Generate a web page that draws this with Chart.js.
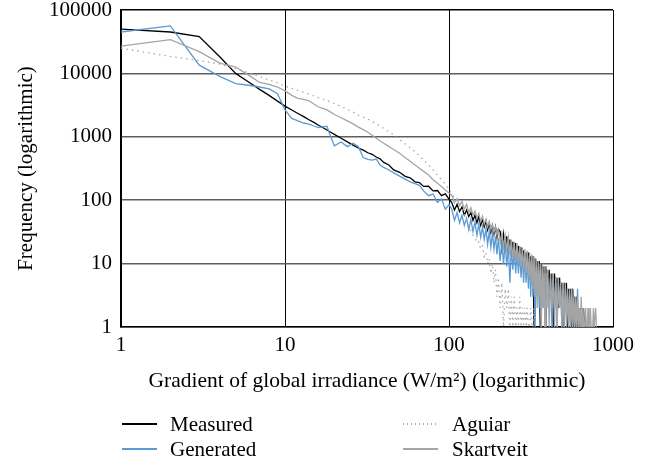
<!DOCTYPE html>
<html>
<head>
<meta charset="utf-8">
<script src="https://cdn.jsdelivr.net/npm/chart.js@4/dist/chart.umd.min.js"></script>
<style>
  html, body { margin: 0; padding: 0; background: #fff; }
  #wrap { position: relative; width: 656px; height: 465px; }
  #legend { position: absolute; left: 0; top: 0; width: 656px; height: 465px; pointer-events: none;
            font-family: "Liberation Serif", "Times New Roman", serif; font-size: 21px; color: #000; }
  .swatch { position: absolute; height: 1.4px; }
  .label { position: absolute; line-height: 24px; white-space: nowrap; }
</style>
</head>
<body>
<div id="wrap">
  <canvas id="chart" width="656" height="465"></canvas>
  <div id="legend"></div>
</div>
<script>
// Gradient bins (W/m2)
const gradients = [
  1, 2, 3, 4, 5, 6, 7, 8, 9, 10,
  11, 12, 13, 14, 15, 16, 17, 18, 19, 20,
  22, 24, 26, 28, 30, 32, 34, 36, 38, 40,
  43, 46, 50, 54, 58, 62, 66, 70, 75, 80,
  85, 90, 95, 100,
  104, 108, 112, 116, 120, 124, 128, 132, 136, 140,
  144, 148, 152, 156, 160, 164, 168, 172, 176, 180,
  184, 188, 192, 196, 200,
  205, 210, 215, 220, 225, 230, 235, 240, 245, 250,
  255, 260, 265, 270, 275, 280, 285, 290, 295, 300,
  305, 310, 315, 320, 325, 330, 335, 340, 345, 350,
  355, 360, 365, 370, 375, 380, 385, 390, 395, 400,
  408, 416, 424, 432, 440, 448, 456, 464, 472, 480,
  488, 496, 504, 512, 520, 528, 536, 544, 552, 560,
  568, 576, 584, 592, 600, 608, 616, 624, 632, 640,
  648, 656, 664, 672, 680, 688, 696, 704, 712, 720,
  728, 736, 744, 752, 760, 768, 776, 784, 792, 800
];

// Frequency of each gradient bin
const measured = [
  50000, 45000, 38000, 18300, 10000, 7300, 5600, 4500, 3650, 3050,
  2650, 2330, 2080, 1860, 1690, 1520, 1400, 1280, 1180, 1090,
  950, 830, 740, 665, 615, 560, 530, 480, 450, 395,
  360, 300, 275, 238, 226, 195, 190, 165, 166, 140,
  142, 118, 126, 104,
  92, 70, 86, 66, 78, 58, 70, 55, 64, 48,
  58, 44, 55, 40, 50, 38, 47, 34, 44, 31,
  40, 29, 38, 26, 35,
  32, 17, 29, 15, 27, 14, 24, 13, 22, 12,
  21, 11, 19, 10, 18, 9, 16, 9, 15, 8,
  15, 7, 13, 7, 13, 1, 12, 6, 11, 5,
  11, 1, 10, 5, 9, 4, 9, 1, 8, 4,
  8, 3, 7, 1, 7, 3, 6, 2, 6, 3,
  5, 1, 5, 2, 5, 1, 4, 2, 4, 1,
  4, 1, 3, 1, 3, 1, 2, 1, 2, 1,
  1, 2, 1, 1, 2, null, null, null, null, null,
  null, null, null, null, null, null, null, null, null, null
];

const generated = [
  45000, 56000, 13500, 9000, 6900, 6500, 6100, 5700, 4800, 2650,
  1950, 1780, 1650, 1590, 1480, 1400, 1430, 1470, 1000, 720,
  830, 700, 790, 700, 470, 440, 430, 445, 360, 330,
  300, 270, 240, 215, 195, 182, 172, 140, 118, 125,
  92, 105, 72, 85,
  72, 48, 64, 44, 58, 40, 52, 34, 50, 32,
  45, 28, 42, 26, 38, 24, 35, 20, 32, 18,
  30, 17, 27, 14, 25,
  11, 23, 10, 21, 9, 20, 5, 18, 8, 17,
  7, 16, 7, 15, 6, 14, 5, 13, 5, 12,
  4, 11, 3, 11, 3, 10, 1, 9, 3, 9,
  2, 8, 1, 8, 2, 7, 1, 7, 2, 6,
  2, 6, 1, 6, 2, 5, 1, 5, 2, 4,
  1, 4, 1, 4, 2, 3, 1, 3, 1, 4,
  1, 3, 1, 2, 1, 4, 1, 2, 1, 1,
  2, null, null, null, null, null, null, null, null, null,
  null, null, null, null, null, null, null, null, null, null
];

const aguiar = [
  25000, 18500, 16000, 14000, 12000, 10200, 8900, 7900, 7100, 6300,
  5800, 5400, 5000, 4700, 4400, 4150, 3950, 3750, 3550, 3350,
  3000, 2700, 2450, 2200, 2050, 1900, 1750, 1600, 1480, 1360,
  1200, 1070, 900, 780, 670, 580, 500, 430, 360, 300,
  250, 210, 180, 150,
  125, 110, 98, 88, 72, 60, 48, 40, 33, 28,
  26, 21, 22, 17, 19, 13, 15, 10, 12, 7,
  10, 5, 8, 3, 6,
  2, 5, 1, 4, 2, 4, 1, 3, 1, 3,
  1, 2, 1, 3, 1, 2, 1, 2, 1, 2,
  1, 1, 2, 1, 1, 2, 1, null, null, null,
  null, null, null, null, null, null, null, null, null, null,
  null, null, null, null, null, null, null, null, null, null,
  null, null, null, null, null, null, null, null, null, null,
  null, null, null, null, null, null, null, null, null, null,
  null, null, null, null, null, null, null, null, null, null,
  null, null, null, null, null, null, null, null, null, null
];

const skartveit = [
  27000, 34000, 22000, 14500, 12600, 9400, 7200, 6700, 6100, 5300,
  4500, 4050, 3900, 3700, 3300, 2950, 2800, 2650, 2450, 2250,
  2000, 1780, 1600, 1420, 1300, 1180, 1060, 950, 860, 790,
  700, 630, 550, 470, 410, 360, 320, 285, 250, 210,
  185, 165, 145, 130,
  120, 92, 106, 82, 96, 72, 86, 64, 76, 58,
  68, 52, 62, 46, 56, 42, 50, 38, 46, 34,
  42, 31, 38, 28, 34,
  22, 30, 18, 28, 16, 26, 14, 24, 12, 22,
  11, 21, 10, 19, 9, 18, 8, 17, 7, 16,
  6, 15, 5, 14, 4, 13, 3, 12, 2, 11,
  3, 10, 1, 10, 2, 9, 1, 9, 2, 8,
  1, 7, 2, 7, 1, 6, 1, 6, 2, 5,
  1, 5, 1, 5, 1, 4, 1, 4, 1, 4,
  1, 3, 1, 3, 1, 3, 1, 2, 1, 3,
  1, 2, 1, 1, 2, 1, 1, 2, 1, 1,
  2, 1, 1, 1, 2, 1, 1, 2, 1, null
];

// Axis tick values
const xTicks = [1, 10, 100, 1000];
const yTicks = [1, 10, 100, 1000, 10000, 100000];

const FONT = '"Liberation Serif", "Times New Roman", serif';
const toPoints = vals => gradients.map((g, i) => ({ x: g, y: vals[i] }));

const series = [
  { label: 'Measured',  data: measured,  color: '#000000', dash: [],       order: 3 },
  { label: 'Generated', data: generated, color: '#5b9bd5', dash: [],       order: 2 },
  { label: 'Aguiar',    data: aguiar,    color: '#a9a9a9', dash: [1.5, 4], order: 1 },
  { label: 'Skartveit', data: skartveit, color: '#a5a5a5', dash: [],       order: 0 }
];

new Chart(document.getElementById('chart'), {
  type: 'line',
  data: {
    datasets: series.map(s => ({
      label: s.label,
      data: toPoints(s.data),
      borderColor: s.color,
      borderWidth: 1.3,
      borderDash: s.dash,
      order: s.order,
      fill: false,
      spanGaps: false
    }))
  },
  options: {
    responsive: false,
    animation: false,
    devicePixelRatio: 1,
    layout: { padding: { left: 0, right: 43, top: 10, bottom: 70 } },
    elements: { point: { radius: 0 }, line: { tension: 0 } },
    plugins: { legend: { display: false }, tooltip: { enabled: false } },
    scales: {
      x: {
        type: 'logarithmic',
        min: 1, max: 1000,
        afterBuildTicks: s => { s.ticks = xTicks.map(v => ({ value: v })); },
        afterFit: s => { s.height = 68; },
        ticks: {
          callback: v => String(v),
          color: '#000', padding: 8, maxRotation: 0, autoSkip: false,
          font: { family: FONT, size: 21, lineHeight: 1 }
        },
        grid: { drawTicks: false, color: '#000', lineWidth: 1 },
        border: { color: '#000', width: 1.5 },
        title: {
          display: true,
          text: 'Gradient of global irradiance (W/m²) (logarithmic)',
          color: '#000',
          font: { family: FONT, size: 21.5, lineHeight: 1.2 },
          padding: { top: 0, bottom: 1 }
        }
      },
      y: {
        type: 'logarithmic',
        min: 1, max: 100000,
        afterBuildTicks: s => { s.ticks = yTicks.map(v => ({ value: v })); },
        afterFit: s => { s.width = 121; s.paddingTop = 0; s.paddingBottom = 0; },
        ticks: {
          callback: v => String(v),
          color: '#000', padding: 9, autoSkip: false,
          font: { family: FONT, size: 21, lineHeight: 1 }
        },
        grid: {
          drawTicks: false,
          color: ctx => (ctx.tick && ctx.tick.value === 100000) ? '#000' : '#5e5e5e',
          lineWidth: 1.5
        },
        border: { color: '#000', width: 1.5 },
        title: {
          display: true,
          text: 'Frequency (logarithmic)',
          color: '#000',
          font: { family: FONT, size: 21, lineHeight: 1.2 },
          padding: { top: 14, bottom: 0 }
        }
      }
    }
  }
});

// Two-column legend below the plot
const legend = document.getElementById('legend');
const legendPos = [
  { swatchX: 122, textX: 170, y: 424 },
  { swatchX: 122, textX: 170, y: 449 },
  { swatchX: 403, textX: 452, y: 424 },
  { swatchX: 403, textX: 452, y: 449 }
];
series.forEach((s, i) => {
  const p = legendPos[i];
  const sw = document.createElement('div');
  sw.className = 'swatch';
  sw.style.left = p.swatchX + 'px';
  sw.style.top = (p.y - 0.7) + 'px';
  sw.style.width = '35px';
  sw.style.background = s.dash.length
    ? 'repeating-linear-gradient(90deg, ' + s.color + ' 0 1.5px, transparent 1.5px 4px)'
    : s.color;
  legend.appendChild(sw);
  const lb = document.createElement('div');
  lb.className = 'label';
  lb.style.left = p.textX + 'px';
  lb.style.top = (p.y - 12) + 'px';
  lb.textContent = s.label;
  legend.appendChild(lb);
});
</script>
</body>
</html>
